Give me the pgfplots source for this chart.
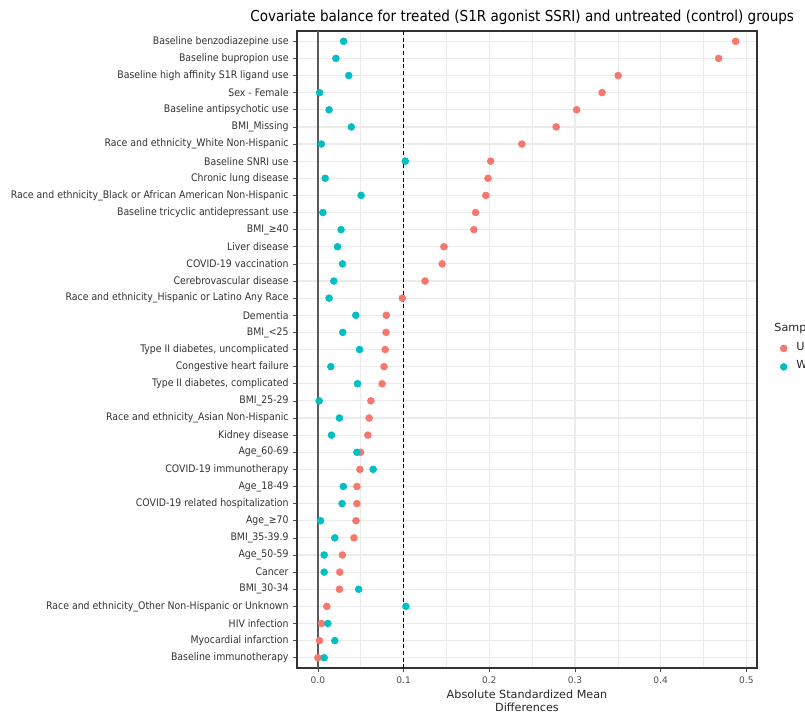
\documentclass[border=0pt]{standalone}
\usepackage{fontspec}
\setmainfont{DejaVu Sans}
\newfontfamily\condfont{DejaVu Sans Condensed}
\usepackage{pgfplots}
\pgfplotsset{compat=1.18}
\definecolor{unadj}{HTML}{F8766D}
\definecolor{adj}{HTML}{00BFC4}
\definecolor{gridc}{HTML}{EBEBEB}
\definecolor{txtc}{HTML}{4D4D4D}

\begin{document}
\begin{tikzpicture}
\begin{axis}[
    at={(0,0)}, anchor=south west,
    scale only axis, width=345pt, height=477.75pt,
    xmin=-0.0244, xmax=0.5124,
    ymin=0.4, ymax=37.6, y dir=reverse,
    xtick={0,0.1,0.2,0.3,0.4,0.5},
    minor xtick={0.05,0.15,0.25,0.35,0.45},
    ytick={1,...,37},
    yticklabels={
        Baseline benzodiazepine use,
        Baseline bupropion use,
        Baseline high affinity S1R ligand use,
        Sex - Female,
        Baseline antipsychotic use,
        BMI\_Missing,
        Race and ethnicity\_White Non-Hispanic,
        Baseline SNRI use,
        Chronic lung disease,
        Race and ethnicity\_Black or African American Non-Hispanic,
        Baseline tricyclic antidepressant use,
        BMI\_≥40,
        Liver disease,
        COVID-19 vaccination,
        Cerebrovascular disease,
        Race and ethnicity\_Hispanic or Latino Any Race,
        Dementia,
        BMI\_<25,
        {Type II diabetes, uncomplicated},
        Congestive heart failure,
        {Type II diabetes, complicated},
        BMI\_25-29,
        Race and ethnicity\_Asian Non-Hispanic,
        Kidney disease,
        Age\_60-69,
        COVID-19 immunotherapy,
        Age\_18-49,
        COVID-19 related hospitalization,
        Age\_≥70,
        BMI\_35-39.9,
        Age\_50-59,
        Cancer,
        BMI\_30-34,
        Race and ethnicity\_Other Non-Hispanic or Unknown,
        HIV infection,
        Myocardial infarction,
        Baseline immunotherapy},
    grid=both,
    major grid style={gridc, line width=0.9pt},
    minor grid style={gridc, line width=0.5pt},
    axis line style={draw=black!80, line width=0.8pt},
    tick align=outside, xtick pos=bottom, ytick pos=left,
    major tick length=2.8pt, minor tick length=0pt,
    tick style={txtc, line width=0.5pt},
    /pgf/number format/assume math mode=true,
    x tick label style={/pgf/number format/fixed, /pgf/number format/fixed zerofill,
                        /pgf/number format/precision=1,
                        font=\fontsize{6.8}{8}\selectfont, text=txtc},
    y tick label style={font=\condfont\fontsize{7.8}{9}\selectfont, text=black!80},
    xlabel={Absolute Standardized Mean\\Differences},
    xlabel style={align=center, font=\fontsize{8.4}{9.6}\selectfont, text=black!85,
                  yshift=2pt},
    title={Covariate balance for treated (S1R agonist SSRI) and untreated (control) groups},
    title style={at={(-0.102,1.0095)}, anchor=west, inner sep=0pt,
                 font=\condfont\fontsize{11.3}{13}\selectfont},
    legend style={at={(1.024,0.55)}, anchor=north west, draw=none, fill=none,
                  font=\fontsize{8.4}{10}\selectfont, text=black!85,
                  row sep=2pt,
                  /tikz/every odd column/.append style={column sep=5pt}},
    legend image post style={yshift=-1pt},
    legend cell align=left,
]
\addlegendimage{empty legend}
\addlegendentry{\hspace*{-16.5pt}Sample}

\addplot[forget plot, black!65, line width=1.1pt] coordinates {(0,0.4) (0,37.6)};
\addplot[forget plot, black, line width=0.7pt, dash pattern=on 3pt off 2pt] coordinates {(0.1,0.4) (0.1,37.6)};

\addplot[only marks, mark=*, mark size=2.6pt, color=unadj] coordinates {
(0.4875,1) (0.4676,2) (0.3504,3) (0.3316,4) (0.302,5) (0.278,6) (0.238,7)
(0.2016,8) (0.1985,9) (0.196,10) (0.184,11) (0.182,12) (0.147,13) (0.145,14)
(0.125,15) (0.0985,16) (0.0798,17) (0.0795,18) (0.0785,19) (0.0772,20)
(0.0749,21) (0.0618,22) (0.0598,23) (0.0583,24) (0.0498,25) (0.049,26)
(0.0455,27) (0.0455,28) (0.0444,29) (0.0421,30) (0.0286,31) (0.0255,32)
(0.0251,33) (0.0104,34) (0.0042,35) (0.0019,36) (0.0,37)};
\addlegendentry{Unweighted}

\addplot[only marks, mark=*, mark size=2.6pt, color=adj] coordinates {
(0.030,1) (0.021,2) (0.036,3) (0.002,4) (0.013,5) (0.039,6) (0.004,7)
(0.102,8) (0.0085,9) (0.0504,10) (0.0058,11) (0.027,12) (0.0229,13) (0.0287,14)
(0.0186,15) (0.013,16) (0.0442,17) (0.029,18) (0.0486,19) (0.0151,20)
(0.0463,21) (0.0015,22) (0.0251,23) (0.0158,24) (0.0455,25) (0.0645,26)
(0.0297,27) (0.0282,28) (0.0031,29) (0.0197,30) (0.0073,31) (0.0073,32)
(0.0475,33) (0.1027,34) (0.0116,35) (0.0197,36) (0.0073,37)};
\addlegendentry{Weighted}
\end{axis}
\pgfresetboundingbox
\path[use as bounding box] (-222.75pt,-35.25pt) rectangle (381pt,501pt);
\end{tikzpicture}
\end{document}
